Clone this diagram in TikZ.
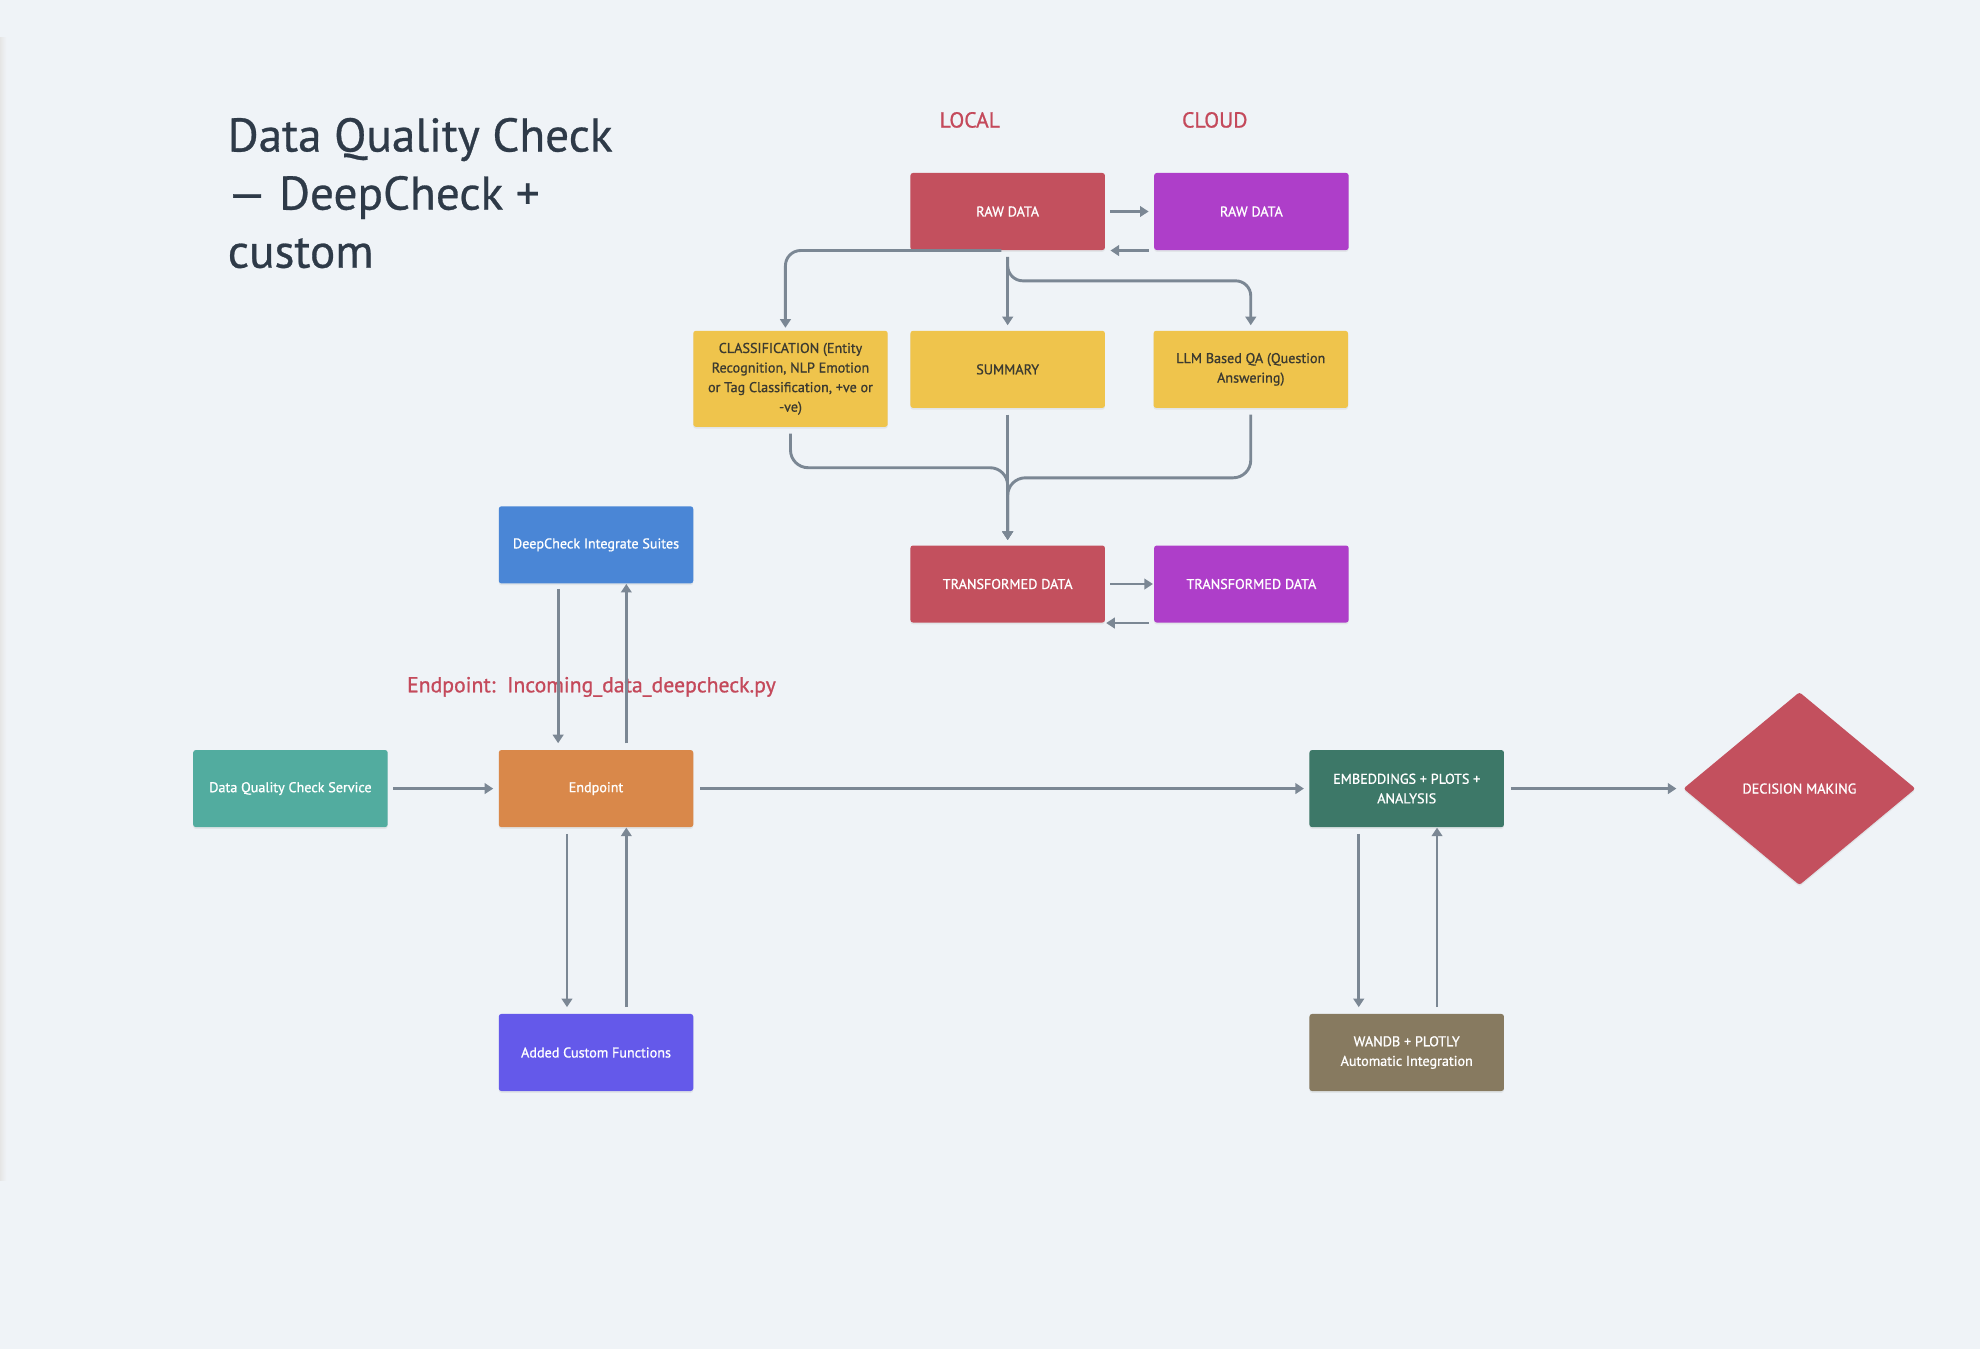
\documentclass[tikz,border=0pt]{standalone}
\usepackage{fontspec}
\setmainfont{PT Sans}
\newfontfamily\medfont[FakeBold=0.9]{PT Sans}
\newfontfamily\titlefont[FakeBold=0.6]{PT Sans}
\usetikzlibrary{arrows.meta,shapes.geometric,shadows}
\definecolor{bg}{HTML}{EFF3F7}
\definecolor{cred}{HTML}{C3505E}
\definecolor{cpurple}{HTML}{AE3EC9}
\definecolor{cyellow}{HTML}{EFC44C}
\definecolor{cblue}{HTML}{4A86D6}
\definecolor{corange}{HTML}{D9884A}
\definecolor{cteal}{HTML}{52AC9F}
\definecolor{cviolet}{HTML}{6459EA}
\definecolor{cgreen}{HTML}{3D7868}
\definecolor{cbrown}{HTML}{877A60}
\definecolor{cline}{HTML}{7B8794}
\definecolor{ctitle}{HTML}{2E3A48}
\definecolor{clabel}{HTML}{C4495B}
\definecolor{cdark}{HTML}{3B3A30}
\tikzset{
  box/.style={rectangle, rounded corners=1pt, minimum width=77pt, minimum height=30.5pt,
    inner sep=0pt, align=center, text=white, font=\medfont\fontsize{5.6}{7.75}\selectfont,
    drop shadow={opacity=0.12, shadow xshift=0pt, shadow yshift=-0.7pt}},
  ybox/.style={box, fill=cyellow, text=cdark},
  conn/.style={draw=cline, line width=1.15pt, -{Triangle[length=3.4pt,width=4.2pt]}},
  titletext/.style={anchor=base west, inner sep=0pt, text=ctitle, font=\titlefont\fontsize{18.7}{23}\selectfont},
  headtext/.style={inner sep=0pt, text=clabel, font=\medfont\fontsize{8.6}{10}\selectfont},
}
\begin{document}
\begin{tikzpicture}[x=0.5pt,y=-0.5pt]
\useasboundingbox (0,0) rectangle (1568,1068);
\fill[bg] (0,0) rectangle (1568,1068);
\shade[left color=black!10, right color=bg] (0,30) rectangle (5,935);

% title
\node[titletext] (t1) at (180,120) {Data Quality Check};
\node[titletext] (t2) at (180,166) {— DeepCheck +};
\node[titletext] (t3) at (180,212) {custom};

% headers
\node[headtext] (local) at (768,95) {LOCAL};
\node[headtext] (cloud) at (962,95) {CLOUD};

% top boxes
\node[box, fill=cred] (rawL) at (798,167.5) {RAW DATA};
\node[box, fill=cpurple] (rawC) at (991,167.5) {RAW DATA};
\node[ybox, minimum height=38pt] (cls) at (626,300) {CLASSIFICATION (Entity\\Recognition, NLP Emotion\\or Tag Classification, +ve or\\-ve)};
\node[ybox] (sum) at (798,292.5) {SUMMARY};
\node[ybox] (llm) at (990.5,292.5) {LLM Based QA (Question\\Answering)};
\node[box, fill=cred] (trL) at (798,462.5) {TRANSFORMED DATA};
\node[box, fill=cpurple] (trC) at (991,462.5) {TRANSFORMED DATA};

% left/bottom boxes
\node[box, fill=cblue] (dcs) at (472,431.5) {DeepCheck Integrate Suites};
\node[box, fill=corange] (ep) at (472,624.5) {Endpoint};
\node[box, fill=cteal] (dqs) at (230,624.5) {Data Quality Check Service};
\node[box, fill=cviolet] (acf) at (472,833.5) {Added Custom Functions};
\node[box, fill=cgreen] (emb) at (1114,624.5) {EMBEDDINGS + PLOTS +\\ANALYSIS};
\node[box, fill=cbrown] (wandb) at (1114,833.5) {WANDB + PLOTLY\\Automatic Integration};
\node[diamond, fill=cred, minimum width=92pt, minimum height=76.5pt, inner sep=0pt,
  rounded corners=1pt, text=white, font=\medfont\fontsize{5.6}{7.75}\selectfont,
  drop shadow={opacity=0.12, shadow xshift=0pt, shadow yshift=-0.7pt}] (dec) at (1425,624.5) {DECISION MAKING};

\node[headtext, anchor=west] (eplabel) at (322,544) {Endpoint:\ \ Incoming\_data\_deepcheck.py};

% top connectors
\draw[conn] ([xshift=2pt]rawL.east) -- ([xshift=-2pt]rawC.west);
\draw[conn] ([xshift=-2pt]rawC.south west) -- ([xshift=2pt]rawL.south east);
\draw[conn, rounded corners=6pt] ([xshift=-2.5pt]rawL.south) -| ([xshift=-2pt,yshift=1pt]cls.north);
\draw[conn] ([yshift=-2.5pt]rawL.south) -- ([yshift=2pt]sum.north);
\draw[conn, rounded corners=6pt] ([yshift=-2.5pt]rawL.south) -- ++(0,19) -| ([yshift=2pt]llm.north);
\draw[conn, rounded corners=7pt] ([yshift=-2.5pt]cls.south) -- ++(0,27) -| ([yshift=2pt]trL.north);
\draw[conn] ([yshift=-2.5pt]sum.south) -- ([yshift=2pt]trL.north);
\draw[conn, rounded corners=7pt] ([yshift=-2.5pt]llm.south) -- ++(0,50) -| ([yshift=2pt]trL.north);
\draw[conn] ([xshift=2pt]trL.east) -- ([xshift=-0.3pt]trC.west);
\draw[conn] ([xshift=-2pt]trC.south west) -- ([xshift=0.3pt]trL.south east);

% lower connectors
\draw[conn] ([xshift=2pt]dqs.east) -- ([xshift=-2pt]ep.west);
\draw[conn] ([xshift=-15pt,yshift=-2pt]dcs.south) -- ([xshift=-15pt,yshift=2.5pt]ep.north);
\draw[conn] ([xshift=12pt,yshift=2.5pt]ep.north) -- ([xshift=12pt]dcs.south);
\draw[conn] ([xshift=-11.5pt,yshift=-2.5pt]ep.south) -- ([xshift=-11.5pt,yshift=2.5pt]acf.north);
\draw[conn] ([xshift=12pt,yshift=2.5pt]acf.north) -- ([xshift=12pt]ep.south);
\draw[conn] ([xshift=2.5pt]ep.east) -- ([xshift=-2pt]emb.west);
\draw[conn] ([xshift=-19pt,yshift=-2.5pt]emb.south) -- ([xshift=-19pt,yshift=2.5pt]wandb.north);
\draw[conn] ([xshift=12pt,yshift=2.5pt]wandb.north) -- ([xshift=12pt]emb.south);
\draw[conn] ([xshift=2.5pt]emb.east) -- ([xshift=-2.5pt]dec.west);
\end{tikzpicture}
\end{document}
